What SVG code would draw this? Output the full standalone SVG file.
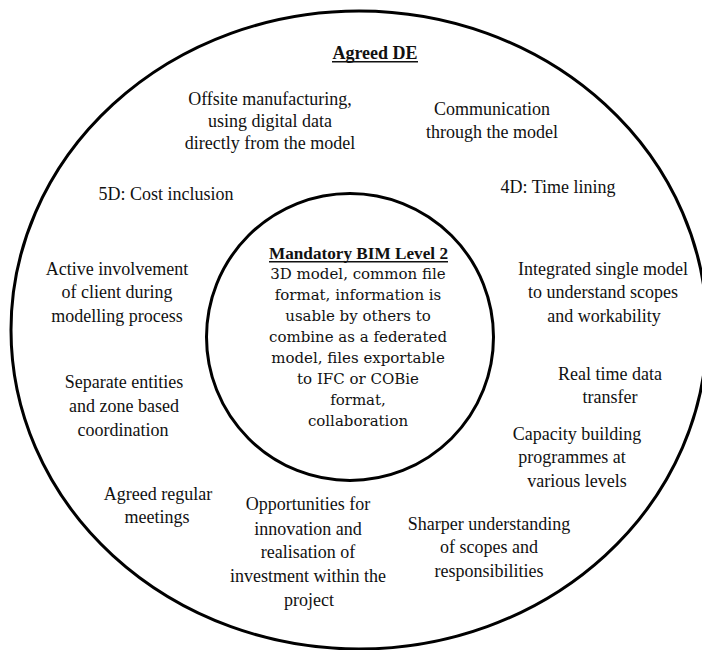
<svg xmlns="http://www.w3.org/2000/svg" width="702" height="650" viewBox="0 0 702 650">
<style>
.ring{fill:none;stroke:#000;stroke-width:3}
.t{font-family:"Liberation Serif","Times New Roman",serif;font-size:18px;fill:#111;text-anchor:middle}
.h{font-family:"Liberation Serif","Times New Roman",serif;font-weight:bold;fill:#111;text-anchor:middle}
.c{font-family:"DejaVu Serif","Liberation Serif",serif;font-size:15px;fill:#111;text-anchor:middle}
.u{stroke:#111;stroke-width:1.6}
</style>
<rect width="702" height="650" fill="#fff"/>
<g id="outer-ring">
<ellipse class="ring" cx="359" cy="330" rx="348" ry="319"/>
</g>
<g id="inner-ring">
<circle class="ring" cx="350" cy="337" r="143.5"/>
</g>
<g id="agreed-de">
<text class="h" x="375" y="59" font-size="18">Agreed DE</text>
<line class="u" x1="332" y1="61.8" x2="418" y2="61.8"/>
</g>
<g id="mandatory-bim">
<text class="h" x="358.5" y="259" font-size="17.2">Mandatory BIM Level 2</text>
<line class="u" x1="269" y1="261.8" x2="448" y2="261.8"/>
<text class="c" x="358" y="279">3D model, common file</text>
<text class="c" x="358" y="300">format, information is</text>
<text class="c" x="358" y="321">usable by others to</text>
<text class="c" x="358" y="342">combine as a federated</text>
<text class="c" x="358" y="363">model, files exportable</text>
<text class="c" x="358" y="384">to IFC or COBie</text>
<text class="c" x="358" y="405" font-size="16.5">format,</text>
<text class="c" x="358" y="426" font-size="16.5">collaboration</text>
</g>
<g id="offsite">
<text class="t" x="270" y="105">Offsite manufacturing,</text>
<text class="t" x="270" y="127">using digital data</text>
<text class="t" x="270" y="149">directly from the model</text>
</g>
<g id="communication">
<text class="t" x="492" y="115">Communication</text>
<text class="t" x="492" y="138">through the model</text>
</g>
<g id="cost">
<text class="t" x="166" y="200">5D: Cost inclusion</text>
</g>
<g id="time">
<text class="t" x="558" y="193">4D: Time lining</text>
</g>
<g id="client">
<text class="t" x="117" y="275">Active involvement</text>
<text class="t" x="117" y="298">of client during</text>
<text class="t" x="117" y="322">modelling process</text>
</g>
<g id="integrated">
<text class="t" x="603" y="275">Integrated single model</text>
<text class="t" x="603" y="298">to understand scopes</text>
<text class="t" x="604" y="322">and workability</text>
</g>
<g id="realtime">
<text class="t" x="610" y="380">Real time data</text>
<text class="t" x="610" y="403">transfer</text>
</g>
<g id="separate">
<text class="t" x="124" y="388">Separate entities</text>
<text class="t" x="124" y="412">and zone based</text>
<text class="t" x="123" y="436">coordination</text>
</g>
<g id="capacity">
<text class="t" x="577" y="440">Capacity building</text>
<text class="t" x="572" y="463">programmes at</text>
<text class="t" x="577" y="487">various levels</text>
</g>
<g id="meetings">
<text class="t" x="158" y="500">Agreed regular</text>
<text class="t" x="157" y="523">meetings</text>
</g>
<g id="opportunities">
<text class="t" x="308" y="510">Opportunities for</text>
<text class="t" x="308" y="535">innovation and</text>
<text class="t" x="308" y="558">realisation of</text>
<text class="t" x="308" y="582">investment within the</text>
<text class="t" x="309" y="606">project</text>
</g>
<g id="sharper">
<text class="t" x="489" y="530">Sharper understanding</text>
<text class="t" x="489" y="553">of scopes and</text>
<text class="t" x="489" y="577">responsibilities</text>
</g>
</svg>
